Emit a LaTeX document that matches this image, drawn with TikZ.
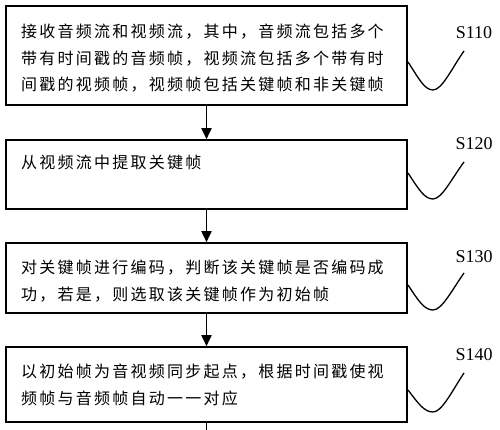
\documentclass[tikz,border=0pt]{standalone}
\usepackage{fontspec}
\setmainfont{Liberation Serif}
\newfontfamily\cjk{Noto Sans CJK SC}[LetterSpace=14]
\usetikzlibrary{arrows.meta}
\begin{document}
\begin{tikzpicture}[x=1pt,y=-1pt]
    \tikzstyle{box}=[draw=black, line width=1.6pt, minimum width=401pt, inner sep=0pt]
    \tikzstyle{txt}=[anchor=north west, inner sep=0pt, align=left, font=\cjk\fontsize{16}{26.5}\selectfont]
    \tikzstyle{lbl}=[inner sep=0pt, font=\fontsize{18}{20}\selectfont]
    \tikzstyle{flow}=[line width=1.8pt, -{Triangle[length=11pt,width=10pt]}]
    \tikzstyle{lead}=[line width=1.3pt]

    \useasboundingbox (0,0) rectangle (500,430);

    \node[box, minimum height=99pt] (s110) at (206.5,55.5) {};
    \node[box, minimum height=69pt] (s120) at (206.5,174.5) {};
    \node[box, minimum height=70pt] (s130) at (206.5,278) {};
    \node[box, minimum height=75pt] (s140) at (206.5,384.5) {};

    \node[txt] (t110) at (21,24) {接收音频流和视频流，其中，音频流包括多个\\带有时间戳的音频帧，视频流包括多个带有时\\间戳的视频帧，视频帧包括关键帧和非关键帧};
    \node[txt] (t120) at (21,155) {从视频流中提取关键帧};
    \node[txt] (t130) at (21,260) {对关键帧进行编码，判断该关键帧是否编码成\\功，若是，则选取该关键帧作为初始帧};
    \node[txt] (t140) at (21,364) {以初始帧为音视频同步起点，根据时间戳使视\\频帧与音频帧自动一一对应};

    % step numbers
    \node[lbl] (l110) at (474,33) {S110};
    \node[lbl] (l120) at (474,144) {S120};
    \node[lbl] (l130) at (474,257) {S130};
    \node[lbl] (l140) at (474,355) {S140};

    \draw[flow] (s110) -- (s120);
    \draw[flow] (s120) -- (s130);
    \draw[flow] (s130) -- (s140);
    \coordinate (out) at (206.5,430);
    \draw[line width=1.8pt] (s140) -- (out);

    % leader curves
    \draw[lead] (408,62) .. controls (418,77) and (424,90) .. (433,90) .. controls (442,90) and (452,68) .. (464,51);
    \draw[lead] (408,173) .. controls (418,188) and (424,199) .. (433,199) .. controls (442,199) and (452,178) .. (464,162);
    \draw[lead] (408,285) .. controls (418,300) and (424,310) .. (433,310) .. controls (442,310) and (452,290) .. (464,273);
    \draw[lead] (408,390) .. controls (418,403) and (424,412) .. (433,412) .. controls (442,412) and (452,391) .. (464,373);
\end{tikzpicture}
\end{document}
